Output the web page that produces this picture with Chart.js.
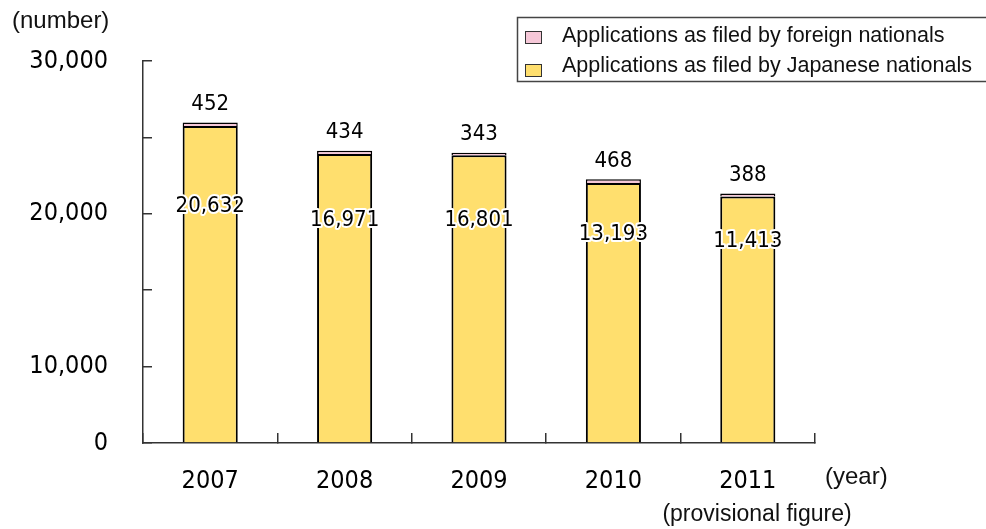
<!DOCTYPE html>
<html>
<head>
<meta charset="utf-8">
<script src="https://cdn.jsdelivr.net/npm/chart.js@4.4.1/dist/chart.umd.min.js"></script>
<style>
  html, body { margin: 0; padding: 0; background: #fff; }
</style>
</head>
<body>
<canvas id="chart" width="986" height="529"></canvas>
<script>
const years = ['2007', '2008', '2009', '2010', '2011'];
const japanese = [20632, 16971, 16801, 13193, 11413];
const foreign = [452, 434, 343, 468, 388];
const yTickLabels = ['0', '10,000', '', '20,000', '', '30,000'];
const seriesNames = ['Applications as filed by Japanese nationals', 'Applications as filed by foreign nationals'];

// the printed axis is broken, so its "0" sits far below the bars' own zero
const Y_MIN = -20850;
const Y_STEP = 10000;

const YELLOW = '#FFDF6E';
const PINK = '#F6C8D8';
const NARROW = '"Liberation Sans Narrow", "DejaVu Sans Condensed", "Liberation Sans", sans-serif';
const SANS = '"Liberation Sans", Arial, sans-serif';

const fmt = (v) => v.toLocaleString('en-US');

const valueLabels = {
  id: 'valueLabels',
  afterDatasetsDraw(chart) {
    const ctx = chart.ctx;
    const zero = chart.scales.y.getPixelForValue(0);
    ctx.save();
    ctx.font = '22px ' + NARROW;
    ctx.textAlign = 'center';
    ctx.textBaseline = 'middle';
    ctx.lineJoin = 'round';
    chart.getDatasetMeta(0).data.forEach((bar, i) => {
      const y = (bar.y + zero) / 2 + 1;
      ctx.lineWidth = 4;
      ctx.strokeStyle = '#fff';
      ctx.strokeText(fmt(japanese[i]), bar.x, y);
      ctx.fillStyle = '#000';
      ctx.fillText(fmt(japanese[i]), bar.x, y);
    });
    chart.getDatasetMeta(1).data.forEach((bar, i) => {
      ctx.fillStyle = '#000';
      ctx.fillText(fmt(foreign[i]), bar.x, bar.y - 18);
    });
    ctx.restore();
  }
};

const boxLegend = {
  id: 'boxLegend',
  afterDraw(chart) {
    const ctx = chart.ctx;
    ctx.save();
    ctx.strokeStyle = '#444';
    ctx.lineWidth = 1.5;
    ctx.strokeRect(517.5, 17.5, 480, 64);
    ctx.font = '21.5px ' + SANS;
    ctx.textBaseline = 'middle';
    ctx.textAlign = 'left';
    const items = chart.data.datasets.slice().reverse();
    items.forEach((ds, i) => {
      const rowY = 36 + i * 30;
      ctx.fillStyle = ds.backgroundColor;
      ctx.strokeStyle = '#333';
      ctx.lineWidth = 1;
      ctx.fillRect(525, rowY - 5 + i * 3, 16, 12);
      ctx.strokeRect(525.5, rowY - 5 + i * 3 + 0.5, 16, 12);
      ctx.fillStyle = '#111';
      ctx.fillText(ds.label, 562, rowY);
    });
    ctx.restore();
  }
};

const axisNotes = {
  id: 'axisNotes',
  afterDraw(chart) {
    const ctx = chart.ctx;
    ctx.save();
    ctx.fillStyle = '#111';
    ctx.font = '24px ' + SANS;
    ctx.textBaseline = 'middle';
    ctx.textAlign = 'left';
    ctx.fillText('(number)', 12, 21);
    ctx.fillText('(year)', 825, 477);
    ctx.font = '23px ' + SANS;
    ctx.textAlign = 'center';
    ctx.fillText('(provisional figure)', 757, 515);
    ctx.restore();
  }
};

new Chart(document.getElementById('chart'), {
  type: 'bar',
  data: {
    labels: years,
    datasets: [
      {
        label: seriesNames[0],
        data: japanese,
        base: Y_MIN,
        backgroundColor: YELLOW,
        borderColor: '#000',
        borderWidth: 2,
        categoryPercentage: 1,
        barPercentage: 0.41
      },
      {
        label: seriesNames[1],
        data: foreign,
        backgroundColor: PINK,
        borderColor: '#000',
        borderWidth: 1.5,
        categoryPercentage: 1,
        barPercentage: 0.41
      }
    ]
  },
  options: {
    responsive: false,
    animation: false,
    layout: { padding: { left: 0, right: 171, top: 61, bottom: 0 } },
    plugins: {
      legend: { display: false },
      tooltip: { enabled: false }
    },
    scales: {
      x: {
        stacked: true,
        grid: { drawOnChartArea: false, tickLength: -10, color: '#333', lineWidth: 1.5 },
        border: { color: '#333', width: 1.5 },
        ticks: { color: '#000', padding: 33, font: { family: NARROW, size: 25 } },
        afterFit(scale) { scale.height = 86; }
      },
      y: {
        stacked: true,
        min: Y_MIN,
        max: Y_MIN + 5 * Y_STEP,
        afterBuildTicks(scale) {
          scale.ticks = yTickLabels.map((_, i) => ({ value: Y_MIN + i * Y_STEP }));
        },
        grid: { drawOnChartArea: false, tickLength: -9, color: '#333', lineWidth: 1.5 },
        border: { color: '#333', width: 1.5 },
        ticks: {
          color: '#000',
          padding: 44,
          font: { family: NARROW, size: 25 },
          callback: (v, i) => yTickLabels[i]
        },
        afterFit(scale) { scale.width = 143; }
      }
    }
  },
  plugins: [valueLabels, boxLegend, axisNotes]
});
</script>
</body>
</html>
